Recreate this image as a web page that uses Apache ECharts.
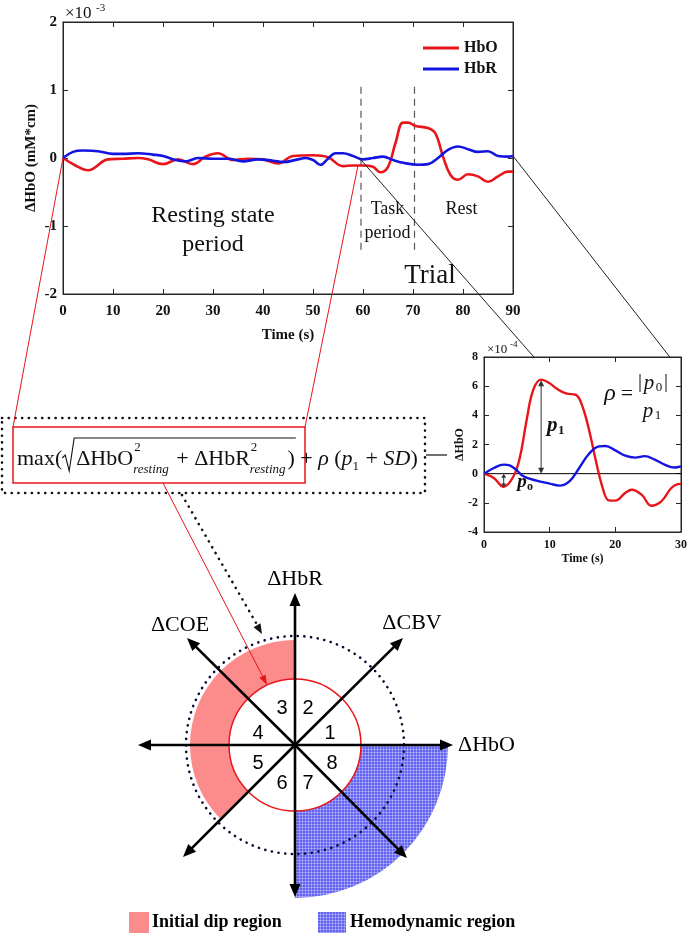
<!DOCTYPE html>
<html><head><meta charset="utf-8">
<script src="https://cdn.jsdelivr.net/npm/echarts@6/dist/echarts.min.js"></script>
<style>html,body{margin:0;padding:0;background:#fff}#c{width:690px;height:937px}</style>
</head><body><div id="c"></div>
<script>
// ---- data (main trial, x10^-3 mM*cm) ----
const hboTime = [0,2.5,5,9,12,15,17,20,23,26,28.5,31,34,37,40,43,46,50,53,56,58,60,62,63.5,65,66.5,68,69,70.5,73,74.5,76,77.5,79,81,83,85,87,89,90];
const hboValue = [0,-0.11,-0.18,-0.02,-0.01,0,-0.02,-0.09,-0.02,-0.09,0.02,0.07,-0.03,-0.01,-0.02,-0.08,0.03,0.04,0.01,-0.12,-0.11,-0.11,-0.13,-0.21,-0.13,0.22,0.52,0.52,0.47,0.44,0.36,0.02,-0.25,-0.32,-0.24,-0.27,-0.35,-0.27,-0.2,-0.2];
const hbrTime = [0,2,4,7,10,12,15,18,20,22.5,24.5,27,30,33,36,39,42,44,47,48.5,50,51.5,53,54.5,56,58,60,62,64,66,68,71,73,75,77,79,81,83,85,87,89,90];
const hbrValue = [0,0.09,0.11,0.10,0.06,0.06,0.07,0.05,0.03,-0.03,-0.05,0,-0.01,-0.01,-0.05,-0.02,-0.04,-0.06,-0.02,0,-0.03,-0.1,-0.01,0.07,0.07,0.03,-0.02,0,0.02,-0.03,-0.07,-0.1,-0.09,0,0.12,0.17,0.13,0.09,0.1,0.03,0.02,0.03];
// ---- data (inset, x10^-4) ----
const insHboTime = [0,1.5,3,4.5,5.5,6.5,7.5,8.7,10,11,12.5,14,15,16,17,18,19,20,21.5,22.5,24,25.5,27,28.5,29.5,30];
const insHboValue = [0,-0.3,-0.9,-0.18,1.19,3.7,5.75,6.45,6.2,5.85,5.5,5.4,4.6,3.0,0.96,-0.87,-1.83,-1.85,-1.32,-1.1,-1.44,-2.2,-1.9,-1.0,-0.72,-0.7];
const insHbrTime = [0,1.5,3,4,5,6,8,10,11.5,13,14.5,16,17.5,18.5,20,21.5,23,24.5,26,27.5,29,30];
const insHbrValue = [0,0.39,0.62,0.55,0.23,-0.18,-0.48,-0.68,-0.82,-0.53,0.39,1.37,1.87,1.9,1.6,1.23,1.1,1.2,0.96,0.62,0.42,0.5];
const taskOnset = 59.6, taskEnd = 70.3;
const p1Time = 8.7, p1Value = 6.4, p0Time = 3, p0Value = -0.95;
const sectorNumbers = ['1','2','3','4','5','6','7','8'];
const axisNames = ['ΔHbO','ΔCBV','ΔHbR','ΔCOE'];
const legendNames = ['Initial dip region','Hemodynamic region'];

const SERIF = '"Liberation Serif","Times New Roman",serif';
const SANS = '"Liberation Sans",Arial,sans-serif';
const AX = '#262626';
const RED = '#e8161b', BLUE = '#1414e0';
const zip = (a,b) => a.map((t,i)=>[t,b[i]]);

function xAx(grid, pos, min, max, iv, show, size, name, gap, margin){
  return {gridIndex:grid, type:'value', position:pos, min, max, interval:iv,
    axisLine:{show:true, onZero:false, lineStyle:{color:AX,width:1}},
    axisTick:{show:true, inside:true, length:5, lineStyle:{color:AX}},
    axisLabel:{show, fontFamily:SERIF, fontWeight:'bold', fontSize:size, color:'#111', margin:margin||7},
    splitLine:{show:false}, name: name||'', nameLocation:'middle', nameGap:gap||0, nameMoveOverlap:false,
    nameTextStyle:{fontFamily:SERIF, fontWeight:'bold', fontSize:size, color:'#111'}};
}
function yAx(grid, pos, min, max, iv, show, size, name, gap){
  const a = xAx(grid,pos,min,max,iv,show,size,name,gap,6);
  a.nameRotate = 90;
  return a;
}
const lineS = (name, xi, yi, data, color, w) => ({name, type:'line', xAxisIndex:xi, yAxisIndex:yi, data,
  smooth:0.4, symbol:'none', lineStyle:{color, width:w}, itemStyle:{color}, z:3, silent:true});

const option = {
  animation:false,
  backgroundColor:'#fff',
  grid:[
    {left:63, top:22, width:450, height:272, show:true, borderColor:AX, borderWidth:1},
    {left:484, top:357, width:200, height:175, show:true, borderColor:AX, borderWidth:1}
  ],
  xAxis:[
    xAx(0,'bottom',0,90,10,true,15,'Time (s)',34,10),
    xAx(0,'top',0,90,10,false,15),
    xAx(1,'bottom',0,30,10,true,12,'Time (s)',21),
    xAx(1,'top',0,30,10,false,12)
  ],
  yAxis:[
    yAx(0,'left',-2,2,1,true,15,'ΔHbO (mM*cm)',24),
    yAx(0,'right',-2,2,1,false,15),
    yAx(1,'left',-4,8,2,true,12,'ΔHbO',18),
    yAx(1,'right',-4,8,2,false,12)
  ],
  legend:{data:['HbO','HbR'], left:418, top:35, orient:'vertical', icon:'rect', itemWidth:36, itemHeight:3, itemGap:5,
    textStyle:{fontFamily:SERIF, fontWeight:'bold', fontSize:16, color:'#111'}},
  series:[
    {type:'line', xAxisIndex:0, yAxisIndex:0, data:[[taskOnset,-1.35],[taskOnset,1.1]], symbol:'none', silent:true,
      lineStyle:{color:'#555', width:1.2, type:[7,5]}, z:2},
    {type:'line', xAxisIndex:0, yAxisIndex:0, data:[[taskEnd,-1.35],[taskEnd,1.1]], symbol:'none', silent:true,
      lineStyle:{color:'#555', width:1.2, type:[7,5]}, z:2},
    lineS('HbO',0,0,zip(hboTime,hboValue),RED,2.6),
    lineS('HbR',0,0,zip(hbrTime,hbrValue),BLUE,2.6),
    {type:'line', xAxisIndex:2, yAxisIndex:2, data:[[0,0],[30,0]], symbol:'none', silent:true, lineStyle:{color:'#000', width:1}, z:2},
    lineS('HbO inset',2,2,zip(insHboTime,insHboValue),RED,2.4),
    lineS('HbR inset',2,2,zip(insHbrTime,insHbrValue),BLUE,2.4)
  ]
};

const chart = echarts.init(document.getElementById('c'));
chart.setOption(option);

const P = (g,t,v) => chart.convertToPixel({gridIndex:g},[t,v]);
const G = [];
const txt = (x,y,text,o) => G.push(Object.assign({type:'text', x, y, z:20, silent:true, style:Object.assign({text, fill:'#111',
  fontFamily:SERIF, fontSize:18, align:'center', verticalAlign:'middle'}, o||{})}));
const seg = (x1,y1,x2,y2,st) => G.push({type:'line', z:15, silent:true, shape:{x1,y1,x2,y2}, style:Object.assign({stroke:'#111', lineWidth:1}, st||{})});
function head(x1,y1,x2,y2,len,w,color){
  const a=Math.atan2(y2-y1,x2-x1), bx=x2-len*Math.cos(a), by=y2-len*Math.sin(a);
  const nx=-Math.sin(a)*w, ny=Math.cos(a)*w;
  G.push({type:'polygon', z:16, silent:true, shape:{points:[[x2,y2],[bx+nx,by+ny],[bx-nx,by-ny]]}, style:{fill:color}});
}
const DOT = {stroke:'#111', lineWidth:2.6, lineDash:[0.1,6.6], lineCap:'round'};

// main annotations
let p = P(0,30,-0.85); txt(p[0],p[1],'Resting state',{fontSize:24});
p = P(0,30,-1.27); txt(p[0],p[1],'period',{fontSize:24});
p = P(0,64.9,-0.76); txt(p[0],p[1],'Task',{fontSize:18});
p = P(0,64.9,-1.1); txt(p[0],p[1],'period',{fontSize:18});
p = P(0,79.7,-0.76); txt(p[0],p[1],'Rest',{fontSize:18});
p = P(0,73.4,-1.73); txt(p[0],p[1],'Trial',{fontSize:27});
txt(65,14,'×10',{align:'left', fontSize:17});
txt(96,8,'-3',{align:'left', fontSize:11});
txt(487,350,'×10',{align:'left', fontSize:13});
txt(510,345,'-4',{align:'left', fontSize:9});

// formula box
const fb = {x:2, y:418, w:423, h:75}, rb = {x:13, y:427, w:292, h:56};
G.push({type:'rect', z:14, silent:true, shape:{x:fb.x,y:fb.y,width:fb.w,height:fb.h}, style:Object.assign({fill:'rgba(0,0,0,0)'},DOT)});
G.push({type:'rect', z:14, silent:true, shape:{x:rb.x,y:rb.y,width:rb.w,height:rb.h}, style:{fill:'rgba(0,0,0,0)', stroke:RED, lineWidth:1.5}});
seg(fb.x+fb.w+1, 455, 447, 455, {lineWidth:1.2});

// connectors main -> formula (red), main -> inset (black)
let a = P(0,0,0); seg(a[0],a[1],rb.x,rb.y,{stroke:RED});
a = P(0,59,-0.11); seg(a[0],a[1],rb.x+rb.w,rb.y,{stroke:RED});
a = P(0,59.5,-0.02); let b = P(1,7.6,8); seg(a[0],a[1],b[0],b[1],{stroke:'#222'});
a = P(0,90,0.03); b = P(1,28.3,8); seg(a[0],a[1],b[0],b[1],{stroke:'#222'});

// formula text
const ctx = document.createElement('canvas').getContext('2d');
const fnt = (sz,st,wt) => `${st||'normal'} ${wt||'normal'} ${sz}px ${SERIF}`;
const tw = (t,sz,st) => { ctx.font = fnt(sz,st); return ctx.measureText(t).width; };
const MS = 22, SS = 13, MY = 459;
let fx = 17;
const put = (t,st) => { txt(fx,MY,t,{align:'left', fontSize:MS, fontStyle:st||'normal'}); fx += tw(t,MS,st); };
const supsub = (sp,sb) => { txt(fx+1,MY-11,sp,{align:'left', fontSize:SS}); txt(fx,MY+11,sb,{align:'left', fontSize:SS, fontStyle:'italic'});
  fx += Math.max(tw(sp,SS), tw(sb,SS,'italic')) + 2; };
put('max(');
const rx = fx;
fx += 14;
put('ΔHbO'); supsub('2','resting'); put(' + '); put('ΔHbR'); supsub('2','resting'); put(')');
G.push({type:'polyline', z:16, silent:true, shape:{points:[[rx,458],[rx+3,455],[rx+7,471],[rx+12,438],[fx+1,438]]}, style:{stroke:'#111', lineWidth:1.1, fill:null}});
put(' + '); put('ρ','italic'); put(' ('); put('p','italic');
txt(fx,MY+8,'1',{align:'left', fontSize:SS}); fx += tw('1',SS)+1;
put(' + '); put('SD','italic'); put(')');

// inset annotations
let q0 = P(1,p1Time,0), q1 = P(1,p1Time,p1Value);
seg(q0[0],q0[1]-5,q1[0],q1[1]+5,{stroke:'#333'});
head(q0[0],q0[1]-20,q0[0],q0[1],6,3,'#333'); head(q1[0],q1[1]+20,q1[0],q1[1],6,3,'#333');
p = P(1,10.4,3.3); txt(p[0],p[1],'p',{fontSize:21, fontStyle:'italic', fontWeight:'bold'}); txt(p[0]+9,p[1]+5,'1',{fontSize:13, fontWeight:'bold'});
q0 = P(1,p0Time,0); q1 = P(1,p0Time,p0Value);
seg(q0[0],q0[1]+2,q1[0],q1[1]-2,{stroke:'#333'});
head(q0[0],q0[1]+10,q0[0],q0[1],4,2.5,'#333'); head(q1[0],q1[1]-10,q1[0],q1[1],4,2.5,'#333');
p = P(1,5.8,-0.55); txt(p[0],p[1],'p',{fontSize:19, fontStyle:'italic', fontWeight:'bold'}); txt(p[0]+8,p[1]+5,'o',{fontSize:12, fontWeight:'bold'});
txt(610,394,'ρ',{fontSize:24, fontStyle:'italic'});
txt(627,394,'=',{fontSize:22});
seg(640,374,640,392,{lineWidth:1}); seg(666,374,666,392,{lineWidth:1});
txt(649,383,'p',{fontSize:21, fontStyle:'italic'}); txt(659,388,'0',{fontSize:13});
txt(648,411,'p',{fontSize:21, fontStyle:'italic'}); txt(658,416,'1',{fontSize:13});

// dotted connector and red arrow to diagram
seg(182,495,259,628,DOT); head(182,495,262,634,10,4,'#111');
seg(163,483,264,679,{stroke:RED}); head(163,483,267,685,10,3.5,RED);

// hemodynamic region texture
const pc = document.createElement('canvas'); pc.width = 3; pc.height = 3;
const pctx = pc.getContext('2d');
pctx.fillStyle = '#6262f2'; pctx.fillRect(0,0,3,3);
pctx.fillStyle = 'rgba(255,255,255,0.3)'; pctx.fillRect(2,0,1,3); pctx.fillRect(0,2,3,1);
const blueFill = {image:pc, repeat:'repeat'};

// diagram
const C = [295,745], R0 = 66, Rpink = 105, Rblue = 153, Rdot = 109;
G.push({type:'sector', z:10, silent:true, shape:{cx:C[0],cy:C[1],r0:R0,r:Rpink,startAngle:Math.PI*0.75,endAngle:Math.PI*1.5,clockwise:true}, style:{fill:'#fc8b8b'}});
G.push({type:'sector', z:10, silent:true, shape:{cx:C[0],cy:C[1],r0:R0,r:Rblue,startAngle:0,endAngle:Math.PI/2,clockwise:true}, style:{fill:blueFill}});
G.push({type:'circle', z:11, silent:true, shape:{cx:C[0],cy:C[1],r:R0}, style:{fill:'rgba(0,0,0,0)', stroke:RED, lineWidth:1.5}});
G.push({type:'circle', z:11, silent:true, shape:{cx:C[0],cy:C[1],r:Rdot}, style:Object.assign({fill:'rgba(0,0,0,0)'},DOT,{stroke:'#0a0a30'})});
const tips = [[158,0],[108,-107],[0,-152],[-108,-107],[-157,0],[-112,112],[0,152],[112,113]];
tips.forEach(([dx,dy])=>{
  const L = Math.hypot(dx,dy), ux=dx/L, uy=dy/L;
  seg(C[0],C[1],C[0]+dx-ux*8,C[1]+dy-uy*8,{stroke:'#000', lineWidth:2.6});
  head(C[0],C[1],C[0]+dx,C[1]+dy,13,5.5,'#000');
});
const numPos = [[330,733],[308,708],[282,708],[258,733],[258,763],[282,783],[308,783],[332,763]];
sectorNumbers.forEach((n,i)=>txt(numPos[i][0],numPos[i][1],n,{fontFamily:SANS, fontSize:20, fill:'#000'}));
txt(458,745,axisNames[0],{align:'left', fontSize:22, fill:'#000'});
txt(412,623,axisNames[1],{fontSize:22, fill:'#000'});
txt(295,579,axisNames[2],{fontSize:22, fill:'#000'});
txt(180,625,axisNames[3],{fontSize:22, fill:'#000'});

// bottom legend
G.push({type:'rect', z:10, silent:true, shape:{x:129,y:912,width:20,height:21}, style:{fill:'#fc8b8b'}});
txt(152,922,legendNames[0],{align:'left', fontSize:18, fontWeight:'bold', fill:'#000'});
G.push({type:'rect', z:10, silent:true, shape:{x:318,y:912,width:28,height:21}, style:{fill:blueFill}});
txt(350,922,legendNames[1],{align:'left', fontSize:18, fontWeight:'bold', fill:'#000'});

chart.setOption({graphic:G});
</script></body></html>
